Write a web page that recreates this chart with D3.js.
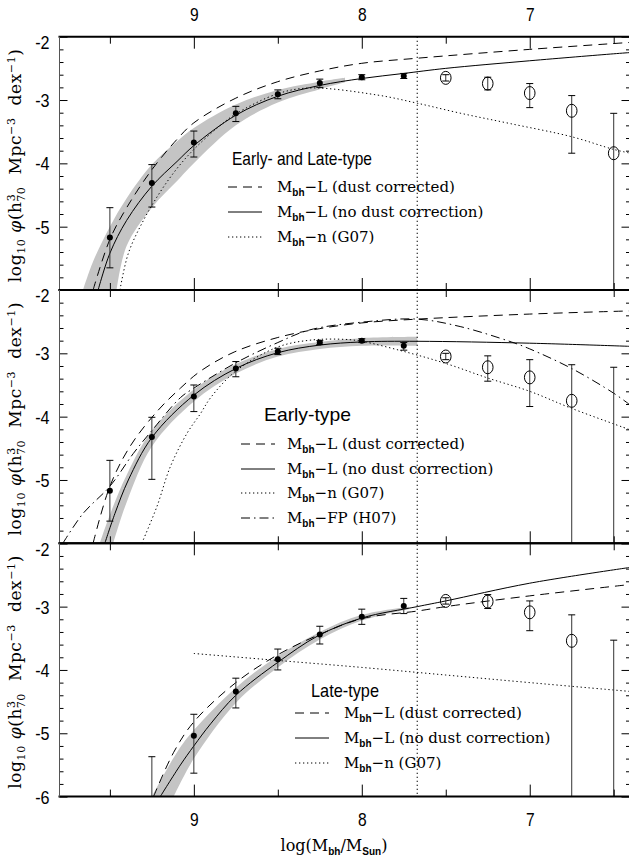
<!DOCTYPE html>
<html><head><meta charset="utf-8">
<script src="https://cdn.jsdelivr.net/npm/d3@7"></script>
<style>body{margin:0;background:#fff} svg{display:block} text{white-space:pre}</style>
</head><body><svg id="c" width="629" height="861"></svg>
<script>
// ---------------- DATA ----------------
const massBins = [9.5, 9.25, 9.0, 8.75, 8.5, 8.25, 8.0, 7.75, 7.5, 7.25, 7.0, 6.75, 6.5];
const openLimit = 7.5;            // bins at or below this are drawn as open circles
const completenessLimit = 7.67;   // vertical dotted line
const xMajorTicks = [9, 8, 7];
const xMinorTicks = [9.5, 8.5, 7.5, 6.5];
const yMajorTicks = [-2, -3, -4, -5, -6];

// Panel 1: Early- and Late-type
const allPhi = [-5.17, -4.31, -3.67, -3.21, -2.91, -2.73, -2.64, -2.62, -2.65, -2.74, -2.89, -3.17, -3.84];
const allHi  = [-4.70, -4.02, -3.49, -3.10, -2.84, -2.67, -2.60, -2.58, -2.60, -2.64, -2.74, -2.93, -3.21];
const allLo  = [-5.65, -4.69, -3.90, -3.34, -2.98, -2.80, -2.68, -2.66, -2.70, -2.84, -3.12, -3.84, -7.0];
const allDust   = [[9.6,-6],[9.5,-5.2],[9.4,-4.7],[9.25,-4.1],[9.1,-3.62],[9.0,-3.36],[8.75,-2.97],[8.5,-2.71],[8.25,-2.54],[8.0,-2.42],[7.67,-2.34],[7.0,-2.2],[6.4,-2.09]];
const allNoDust = [[9.57,-6],[9.5,-5.42],[9.4,-4.9],[9.25,-4.36],[9.1,-3.97],[9.0,-3.72],[8.75,-3.24],[8.5,-2.94],[8.25,-2.77],[8.0,-2.66],[7.75,-2.58],[7.5,-2.5],[7.0,-2.38],[6.5,-2.27],[6.4,-2.25]];
const allSersic = [[9.44,-6],[9.39,-5.42],[9.3,-4.9],[9.2,-4.45],[9.1,-4.08],[9.0,-3.78],[8.86,-3.44],[8.75,-3.22],[8.5,-2.9],[8.31,-2.81],[7.91,-2.92],[7.67,-3.05],[7.41,-3.21],[7.12,-3.37],[6.75,-3.58],[6.5,-3.78],[6.4,-3.84]];
const allBandUp = [[9.66,-6],[9.6,-5.55],[9.5,-5.0],[9.4,-4.55],[9.25,-4.02],[9.1,-3.65],[9.0,-3.44],[8.75,-3.07],[8.5,-2.84],[8.25,-2.71],[8.1,-2.65]];
const allBandLo = [[9.46,-6],[9.4,-5.3],[9.25,-4.7],[9.1,-4.28],[9.0,-4.0],[8.75,-3.4],[8.5,-3.04],[8.25,-2.83],[8.1,-2.72]];

// Panel 2: Early-type
const earlyPhi = [-5.17, -4.32, -3.68, -3.24, -2.97, -2.83, -2.80, -2.88, -3.05, -3.22, -3.38, -3.75, -6.5];
const earlyHi  = [-4.69, -4.01, -3.50, -3.13, -2.92, -2.80, -2.77, -2.83, -3.00, -3.04, -3.10, -3.18, -3.22];
const earlyLo  = [-5.65, -4.99, -3.92, -3.37, -3.02, -2.86, -2.83, -2.95, -3.10, -3.44, -3.84, -7.0, -7.0];
const earlyDust   = [[9.6,-6],[9.5,-5.1],[9.38,-4.47],[9.22,-3.92],[9.08,-3.55],[8.96,-3.28],[8.76,-2.98],[8.5,-2.75],[8.25,-2.61],[8.0,-2.52],[7.67,-2.46],[7.0,-2.38],[6.4,-2.33]];
const earlyNoDust = [[9.53,-6],[9.47,-5.53],[9.39,-5.0],[9.25,-4.33],[9.0,-3.66],[8.75,-3.24],[8.5,-2.99],[8.25,-2.87],[8.0,-2.82],[7.67,-2.81],[7.0,-2.84],[6.4,-2.89]];
const earlySersic = [[9.31,-6],[9.22,-5.42],[9.14,-4.79],[9.04,-4.26],[8.96,-3.95],[8.9,-3.7],[8.75,-3.28],[8.5,-2.9],[8.3,-2.79],[8.1,-2.78],[8.0,-2.81],[7.75,-2.97],[7.5,-3.16],[7.25,-3.39],[7.0,-3.6],[6.75,-3.87],[6.4,-4.21]];
const earlyFP     = [[9.78,-6],[9.66,-5.53],[9.5,-5.1],[9.36,-4.58],[9.25,-4.22],[9.08,-3.7],[9.0,-3.55],[8.75,-3.15],[8.5,-2.83],[8.31,-2.63],[7.97,-2.5],[7.67,-2.46],[7.41,-2.58],[7.11,-2.82],[7.0,-2.93],[6.75,-3.24],[6.5,-3.63],[6.4,-3.82]];
const earlyBandUp = [[9.56,-6],[9.5,-5.55],[9.4,-4.92],[9.25,-4.22],[9.0,-3.57],[8.75,-3.17],[8.5,-2.93],[8.25,-2.82],[8.0,-2.76],[7.67,-2.74]];
const earlyBandLo = [[9.48,-6],[9.4,-5.35],[9.25,-4.47],[9.0,-3.76],[8.75,-3.32],[8.5,-3.05],[8.25,-2.93],[8.0,-2.88],[7.67,-2.88]];

// Panel 3: Late-type
const latePhi = [null, -6.5, -5.04, -4.34, -3.83, -3.44, -3.16, -2.99, -2.91, -2.92, -3.09, -3.54, -6.5];
const lateHi  = [null, -5.37, -4.70, -4.13, -3.67, -3.31, -3.04, -2.87, -2.86, -2.81, -2.91, -3.13, -3.53];
const lateLo  = [null, -7.0, -5.63, -4.60, -4.00, -3.59, -3.28, -3.11, -2.96, -3.03, -3.38, -7.0, -7.0];
const lateDust   = [[9.24,-6],[9.12,-5.3],[9.0,-4.82],[8.75,-4.2],[8.5,-3.76],[8.26,-3.45],[8.0,-3.19],[7.67,-3.07],[7.5,-3.0],[7.0,-2.83],[6.4,-2.65]];
const lateNoDust = [[9.2,-6],[9.08,-5.5],[9.0,-5.2],[8.9,-4.85],[8.75,-4.4],[8.5,-3.88],[8.26,-3.46],[8.0,-3.18],[7.67,-3.0],[7.5,-2.91],[7.0,-2.63],[6.4,-2.38]];
const lateSersic = [[9.0,-3.74],[8.5,-3.85],[8.0,-3.96],[7.5,-4.08],[7.0,-4.2],[6.4,-4.34]];
const lateBandUp = [[9.25,-6],[9.1,-5.3],[9.0,-4.95],[8.75,-4.28],[8.5,-3.78],[8.25,-3.4],[8.0,-3.13],[7.72,-3.0]];
const lateBandLo = [[9.12,-6],[9.0,-5.4],[8.75,-4.52],[8.5,-3.96],[8.25,-3.52],[8.0,-3.22],[7.72,-3.04]];

const legendLabels = {
  dust: "L (dust corrected)",
  nodust: "L (no dust correction)",
  sersic: "n (G07)",
  fp: "FP (H07)"
};
const panelTitles = ["Early- and Late-type", "Early-type", "Late-type"];

// ---------------- LAYOUT ----------------
const svg = d3.select("#c");
const X0 = 59.5, X1 = 630.5;
const panelTops = [36.7, 290, 543.3];
const PH = 253.3;
const x = d3.scaleLinear().domain([9.8, 6.4]).range([X0, X1]);
const styles = {
  dust:   {dash: "9,6"},
  nodust: {dash: null},
  sersic: {dash: "1.3,2.7"},
  fp:     {dash: "9,4,1.5,4"}
};
const SANS = "Liberation Sans, Arial, sans-serif";
const SERIF = "DejaVu Serif, serif";

function squeeze(sel, f) {
  sel.each(function () {
    const L = this.getComputedTextLength();
    d3.select(this).attr("textLength", L * f).attr("lengthAdjust", "spacingAndGlyphs");
  });
}

const panels = [
  {phi: allPhi, hi: allHi, lo: allLo, curves: [["dust", allDust], ["nodust", allNoDust], ["sersic", allSersic]],
   band: [allBandUp, allBandLo], title: panelTitles[0], titleW: 140, titleX: 232, titleY: 165,
   legY: [187, 212, 237], legX0: 228, legX1: 262, legTX: 277, labels: [-2, -3, -4, -5]},
  {phi: earlyPhi, hi: earlyHi, lo: earlyLo, curves: [["dust", earlyDust], ["nodust", earlyNoDust], ["sersic", earlySersic], ["fp", earlyFP]],
   band: [earlyBandUp, earlyBandLo], title: panelTitles[1], titleW: 87, titleX: 264, titleY: 421,
   legY: [444, 469, 493, 518], legX0: 241, legX1: 275, legTX: 287, labels: [-2, -3, -4, -5]},
  {phi: latePhi, hi: lateHi, lo: lateLo, curves: [["dust", lateDust], ["nodust", lateNoDust], ["sersic", lateSersic]],
   band: [lateBandUp, lateBandLo], title: panelTitles[2], titleW: 68, titleX: 311, titleY: 697,
   legY: [713, 738, 763], legX0: 295, legX1: 329, legTX: 344, labels: [-2, -3, -4, -5, -6]}
];

const defs = svg.append("defs");

panels.forEach((p, i) => {
  const top = panelTops[i];
  const y = d3.scaleLinear().domain([-6, -2]).range([top + PH, top]);
  const g = svg.append("g");
  defs.append("clipPath").attr("id", "clip" + i).append("rect")
    .attr("x", X0).attr("y", top).attr("width", X1 - X0).attr("height", PH);
  const plot = g.append("g").attr("clip-path", `url(#clip${i})`);
  const line = d3.line().x(d => x(d[0])).y(d => y(d[1])).curve(d3.curveCatmullRom.alpha(0.5));

  // grey band: upper edge forward, lower edge back
  const upPath = line(p.band[0]);
  const loPath = line(p.band[1].slice().reverse());
  plot.append("path").attr("d", upPath + "L" + loPath.slice(1) + "Z")
    .attr("fill", "#c4c4c4").attr("stroke", "none");

  // curves
  p.curves.forEach(([k, pts]) => {
    plot.append("path").attr("d", line(pts)).attr("fill", "none").attr("stroke", "#000")
      .attr("stroke-width", 1).attr("stroke-dasharray", styles[k].dash);
  });

  // data points
  massBins.forEach((m, j) => {
    if (p.phi[j] === null) return;
    const cx = x(m);
    plot.append("line").attr("x1", cx).attr("x2", cx).attr("y1", y(p.hi[j])).attr("y2", y(p.lo[j]))
      .attr("stroke", "#333").attr("stroke-width", 1);
    [p.hi[j], p.lo[j]].forEach(v => {
      plot.append("line").attr("x1", cx - 3.5).attr("x2", cx + 3.5).attr("y1", y(v)).attr("y2", y(v))
        .attr("stroke", "#000").attr("stroke-width", 1);
    });
    if (m <= openLimit) {
      plot.append("ellipse").attr("cx", cx).attr("cy", y(p.phi[j])).attr("rx", 5.3).attr("ry", 6.5)
        .attr("fill", "none").attr("stroke", "#000").attr("stroke-width", 1);
    } else {
      plot.append("circle").attr("cx", cx).attr("cy", y(p.phi[j])).attr("r", 3).attr("fill", "#000");
    }
  });

  // axes: x ticks (top & bottom, inward)
  const axT = d3.axisTop(x).tickValues(xMajorTicks).tickSize(-12).tickFormat(i === 0 ? d3.format("d") : () => "").tickPadding(16);
  const axTm = d3.axisTop(x).tickValues(xMinorTicks).tickSize(-7).tickFormat(() => "");
  const axB = d3.axisBottom(x).tickValues(xMajorTicks).tickSize(-12).tickFormat(i === 2 ? d3.format("d") : () => "").tickPadding(16);
  const axBm = d3.axisBottom(x).tickValues(xMinorTicks).tickSize(-7).tickFormat(() => "");
  [[axT, top], [axTm, top], [axB, top + PH], [axBm, top + PH]].forEach(([ax, yy]) => {
    const a = g.append("g").attr("transform", `translate(0,${yy})`).call(ax);
    a.select(".domain").remove();
    a.selectAll("line").attr("stroke", "#000");
    a.selectAll("text").style("font-family", SANS).style("font-size", "19px").attr("fill", "#000");
    squeeze(a.selectAll("text").filter(function () { return this.textContent !== ""; }), 0.82);
  });

  // y ticks (left with labels, right without)
  const minorY = d3.range(-5.8, -2.05, 0.2).filter(v => Math.abs(v - Math.round(v)) > 0.05);
  const axL = d3.axisLeft(y).tickValues(yMajorTicks).tickSize(-8).tickPadding(10)
    .tickFormat(v => p.labels.includes(v) ? String(v) : "");
  const axLm = d3.axisLeft(y).tickValues(minorY).tickSize(-4).tickFormat(() => "");
  const axR = d3.axisRight(y).tickValues(yMajorTicks).tickSize(-9).tickFormat(() => "");
  const axRm = d3.axisRight(y).tickValues(minorY).tickSize(-4.5).tickFormat(() => "");
  [[axL, X0], [axLm, X0], [axR, X1], [axRm, X1]].forEach(([ax, xx]) => {
    const a = g.append("g").attr("transform", `translate(${xx},0)`).call(ax);
    a.select(".domain").remove();
    a.selectAll("line").attr("stroke", "#000");
    a.selectAll("text").style("font-family", SANS).style("font-size", "19px").attr("fill", "#000")
      .attr("dy", d => d === -2 ? "0.62em" : "0.34em");
    squeeze(a.selectAll("text").filter(function () { return this.textContent !== ""; }), 0.85);
  });

  // frame
  g.append("line").attr("x1", X0 - 1).attr("x2", X1 + 1).attr("y1", top).attr("y2", top).attr("stroke", "#000").attr("stroke-width", 2);
  g.append("line").attr("x1", X0 - 1).attr("x2", X1 + 1).attr("y1", top + PH).attr("y2", top + PH).attr("stroke", "#000").attr("stroke-width", 2);
  g.append("line").attr("x1", X0).attr("x2", X0).attr("y1", top).attr("y2", top + PH).attr("stroke", "#555").attr("stroke-width", 1);
  g.append("line").attr("x1", X1).attr("x2", X1).attr("y1", top).attr("y2", top + PH).attr("stroke", "#000").attr("stroke-width", 1);

  // legend title
  g.append("text").attr("x", p.titleX).attr("y", p.titleY).style("font-family", SANS).style("font-size", "19px")
    .attr("textLength", p.titleW).attr("lengthAdjust", "spacingAndGlyphs").text(p.title);

  // legend entries
  p.curves.forEach(([k], j) => {
    const ly = p.legY[j];
    g.append("line").attr("x1", p.legX0).attr("x2", p.legX1).attr("y1", ly).attr("y2", ly)
      .attr("stroke", "#000").attr("stroke-width", 1).attr("stroke-dasharray", styles[k].dash);
    const t = g.append("text").attr("x", p.legTX).attr("y", ly + 5).style("font-family", SERIF).style("font-size", "15px");
    t.append("tspan").text("M");
    t.append("tspan").attr("dy", 4).style("font-family", SANS).style("font-weight", "bold").style("font-size", "10px").text("bh");
    t.append("tspan").attr("dy", -4).text("\u2212" + legendLabels[k]);
  });

  // y-axis title
  const cy = top + PH / 2 + 2;
  const t = svg.append("text").attr("transform", `translate(21,${cy}) rotate(-90)`).attr("text-anchor", "middle")
    .style("font-family", SERIF).style("font-size", "17px").style("letter-spacing", "0.6px");
  t.append("tspan").text("log");
  t.append("tspan").attr("dy", 4).style("font-size", "11px").text("10");
  t.append("tspan").attr("dy", -4).text(" ");
  t.append("tspan").style("font-style", "italic").text("\u03c6");
  t.append("tspan").text("(h");
  t.append("tspan").attr("dy", -6).style("font-size", "11px").text("3");
  t.append("tspan").attr("dx", -8).attr("dy", 10).style("font-size", "11px").text("70");
  t.append("tspan").attr("dy", -4).text("  Mpc");
  t.append("tspan").attr("dy", -6).style("font-size", "11px").text("\u22123");
  t.append("tspan").attr("dy", 6).text("  dex");
  t.append("tspan").attr("dy", -6).style("font-size", "11px").text("\u22121");
  t.append("tspan").attr("dy", 6).text(")");
});

// completeness line across all panels
svg.append("line").attr("x1", x(completenessLimit)).attr("x2", x(completenessLimit))
  .attr("y1", panelTops[0]).attr("y2", panelTops[2] + PH)
  .attr("stroke", "#000").attr("stroke-width", 1).attr("stroke-dasharray", "1.3,2.7");

// x-axis title
const xt = svg.append("text").attr("x", 334).attr("y", 851).attr("text-anchor", "middle")
  .style("font-family", SERIF).style("font-size", "16px");
xt.append("tspan").text("log(M");
xt.append("tspan").attr("dy", 4).style("font-family", SANS).style("font-weight", "bold").style("font-size", "10px").text("bh");
xt.append("tspan").attr("dy", -4).text("/M");
xt.append("tspan").attr("dy", 4).style("font-family", SANS).style("font-weight", "bold").style("font-size", "10px").text("Sun");
xt.append("tspan").attr("dy", -4).text(")");
</script></body></html>
